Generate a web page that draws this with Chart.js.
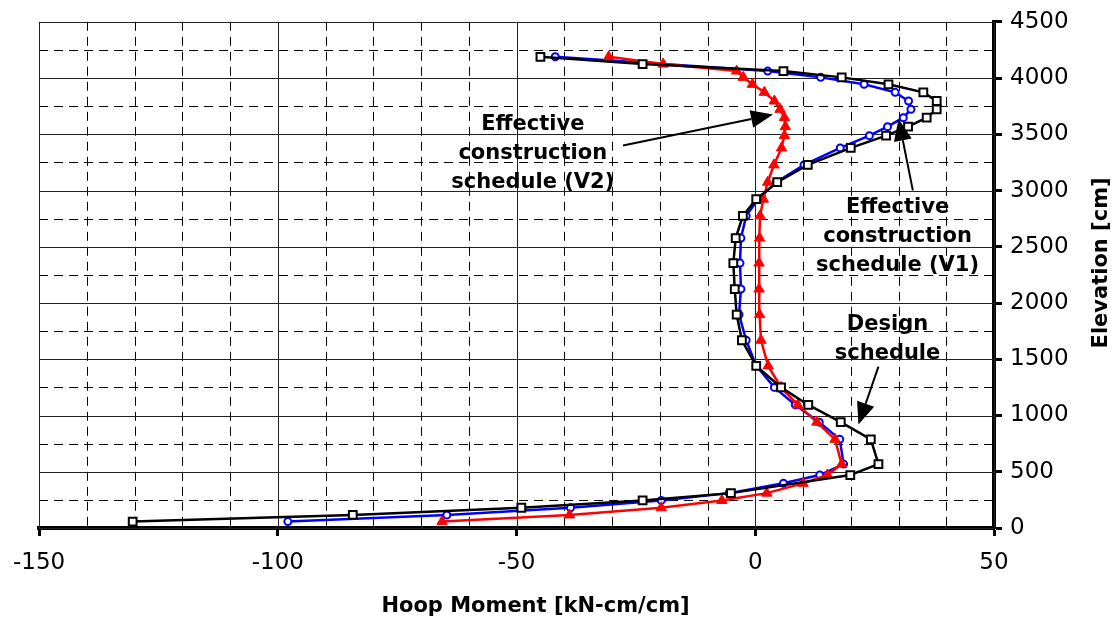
<!DOCTYPE html>
<html>
<head>
<meta charset="utf-8">
<script src="https://cdn.jsdelivr.net/npm/chart.js@4.4.1/dist/chart.umd.min.js"></script>
<style>
  html, body { margin: 0; padding: 0; background: #fff; }
  #wrap { width: 1119px; height: 623px; }
</style>
</head>
<body>
<div id="wrap"><canvas id="chart" width="1119" height="623"></canvas></div>
<script>
// Axis ticks
const xTicks = [-150, -100, -50, 0, 50];
const yTicks = [0, 500, 1000, 1500, 2000, 2500, 3000, 3500, 4000, 4500];

// Design schedule (black squares)
const designElev = [57, 116, 180, 245, 310, 471, 568, 788, 941, 1094, 1250, 1441, 1669, 1897, 2124, 2355, 2577,
  2775, 2923, 3074, 3228, 3379, 3488, 3568, 3648, 3722, 3796, 3873, 3944, 4006, 4062, 4124, 4189];
const designMoment = [-130.4, -84.3, -49.0, -23.6, -5.1, 19.9, 25.8, 24.2, 17.9, 11.1, 5.4, 0.2, -2.8, -3.9, -4.3, -4.6, -4.1,
  -2.6, 0.2, 4.6, 11.0, 20.0, 27.4, 32.0, 35.9, 38.0, 38.0, 35.2, 27.9, 18.1, 5.9, -23.6, -45.0];

// Effective construction schedule V1 (blue circles)
const v1Elev = [57, 116, 180, 245, 310, 397, 471, 568, 788, 941, 1094, 1250, 1441, 1669, 1897, 2124, 2355, 2577,
  2775, 2923, 3074, 3228, 3379, 3488, 3568, 3648, 3722, 3796, 3873, 3944, 4006, 4062, 4189];
const v1Moment = [-97.9, -64.6, -38.7, -19.7, -5.5, 5.9, 13.5, 18.5, 17.7, 13.4, 8.4, 4.0, 0.2, -1.9, -3.4, -3.0, -3.2, -3.0,
  -1.9, 0.6, 4.4, 10.2, 17.8, 23.9, 27.7, 31.0, 32.6, 32.1, 29.3, 22.8, 13.7, 2.6, -41.9];

// Effective construction schedule V2 (red triangles)
const v2Elev = [57, 116, 180, 245, 310, 397, 471, 568, 788, 941, 1094, 1250, 1441, 1669, 1897, 2124, 2355, 2577,
  2775, 2923, 3074, 3228, 3379, 3488, 3568, 3648, 3722, 3796, 3873, 3944, 4006, 4062, 4124, 4189];
const v2Moment = [-65.6, -38.9, -19.7, -7.0, 2.4, 10.0, 15.1, 18.1, 16.7, 12.9, 8.9, 5.4, 2.7, 1.2, 0.9, 0.8, 0.8, 0.9,
  1.0, 1.7, 2.6, 3.9, 5.5, 6.1, 6.3, 6.1, 5.2, 4.0, 1.9, -0.6, -2.5, -3.9, -19.3, -30.7];

// Callout texts
const labelV2 = ['Effective', 'construction', 'schedule (V2)'];
const labelV1 = ['Effective', 'construction', 'schedule (V1)'];
const labelDesign = ['Design', 'schedule'];

const FONT = '"DejaVu Sans", Verdana, sans-serif';

function toPoints(xs, ys) {
  return xs.map((x, i) => ({ x, y: ys[i] }));
}

// Dashed minor grid + solid major grid inside the plot area
const gridPlugin = {
  id: 'gridPlugin',
  beforeDatasetsDraw(chart) {
    const { ctx, chartArea: a, scales: { x, y } } = chart;
    ctx.save();
    ctx.lineWidth = 1;
    ctx.strokeStyle = '#000';
    ctx.setLineDash([9, 6]);
    for (let v = -150; v <= 50; v += 10) {
      if (v % 50 === 0) continue;
      const px = Math.round(x.getPixelForValue(v)) + 0.5;
      ctx.beginPath(); ctx.moveTo(px, a.top); ctx.lineTo(px, a.bottom); ctx.stroke();
    }
    for (let v = 250; v < 4500; v += 500) {
      const py = Math.round(y.getPixelForValue(v)) + 0.5;
      ctx.beginPath(); ctx.moveTo(a.left, py); ctx.lineTo(a.right, py); ctx.stroke();
    }
    ctx.setLineDash([]);
    ctx.strokeStyle = '#222';
    xTicks.forEach((v) => {
      const px = Math.round(x.getPixelForValue(v)) + 0.5;
      ctx.beginPath(); ctx.moveTo(px, a.top); ctx.lineTo(px, a.bottom); ctx.stroke();
    });
    yTicks.forEach((v) => {
      const py = Math.round(y.getPixelForValue(v)) + 0.5;
      ctx.beginPath(); ctx.moveTo(a.left, py); ctx.lineTo(a.right, py); ctx.stroke();
    });
    ctx.restore();
  },
};

function arrow(ctx, x0, y0, x1, y1) {
  const ang = Math.atan2(y1 - y0, x1 - x0);
  const len = 22;
  const half = 9;
  const bx = x1 - Math.cos(ang) * len;
  const by = y1 - Math.sin(ang) * len;
  ctx.beginPath();
  ctx.moveTo(x0, y0);
  ctx.lineTo(bx, by);
  ctx.stroke();
  ctx.beginPath();
  ctx.moveTo(x1, y1);
  ctx.lineTo(bx + Math.sin(ang) * half, by - Math.cos(ang) * half);
  ctx.lineTo(bx - Math.sin(ang) * half, by + Math.cos(ang) * half);
  ctx.closePath();
  ctx.fill();
}

// Callouts and axis titles
const notesPlugin = {
  id: 'notesPlugin',
  afterDraw(chart) {
    const { ctx, chartArea: a, scales: { x, y } } = chart;
    ctx.save();
    ctx.fillStyle = '#000';
    ctx.strokeStyle = '#000';
    ctx.lineWidth = 2;
    ctx.font = 'bold 21px ' + FONT;
    ctx.textAlign = 'center';
    ctx.textBaseline = 'middle';

    const block = (lines, vx, vy) => {
      const cx = x.getPixelForValue(vx);
      const cy = y.getPixelForValue(vy);
      lines.forEach((t, i) => ctx.fillText(t, cx, cy + i * 29));
    };
    block(labelV2, -46.6, 3586);
    block(labelV1, 29.8, 2850);
    block(labelDesign, 27.7, 1805);

    arrow(ctx, x.getPixelForValue(-27.7), y.getPixelForValue(3400), x.getPixelForValue(3.7), y.getPixelForValue(3675));
    arrow(ctx, x.getPixelForValue(33.0), y.getPixelForValue(3001), x.getPixelForValue(30.0), y.getPixelForValue(3639));
    arrow(ctx, x.getPixelForValue(25.8), y.getPixelForValue(1434), x.getPixelForValue(21.6), y.getPixelForValue(920));

    // axis titles
    ctx.fillText('Hoop Moment [kN-cm/cm]', a.left + (a.right - a.left) / 2 + 19, 607);
    ctx.translate(1102, a.top + (a.bottom - a.top) / 2 - 12);
    ctx.rotate(-Math.PI / 2);
    ctx.fillText('Elevation [cm]', 0, 0);
    ctx.restore();
  },
};

new Chart(document.getElementById('chart'), {
  type: 'scatter',
  data: {
    datasets: [
      {
        label: 'Design schedule',
        data: toPoints(designMoment, designElev),
        showLine: true,
        borderColor: '#000',
        borderWidth: 2.5,
        pointStyle: 'rect',
        pointRadius: 5.5,
        pointBorderWidth: 2,
        pointBackgroundColor: '#fff',
        pointBorderColor: '#000',
      },
      {
        label: 'Effective construction schedule (V2)',
        data: toPoints(v2Moment, v2Elev),
        showLine: true,
        borderColor: '#ff0000',
        borderWidth: 2.5,
        pointStyle: 'triangle',
        pointRadius: 6,
        pointBorderWidth: 1,
        pointBackgroundColor: '#ff0000',
        pointBorderColor: '#ff0000',
      },
      {
        label: 'Effective construction schedule (V1)',
        data: toPoints(v1Moment, v1Elev),
        showLine: true,
        borderColor: '#0000ff',
        borderWidth: 2.5,
        pointStyle: 'circle',
        pointRadius: 3.5,
        pointBorderWidth: 2,
        pointBackgroundColor: '#fff',
        pointBorderColor: '#0000ff',
      },
    ],
  },
  options: {
    responsive: false,
    animation: false,
    devicePixelRatio: 1,
    layout: { padding: { left: 37, top: 20, right: 0, bottom: 0 } },
    plugins: {
      legend: { display: false },
      tooltip: { enabled: false },
    },
    scales: {
      x: {
        type: 'linear',
        position: 'bottom',
        min: -150,
        max: 50,
        afterBuildTicks: (scale) => { scale.ticks = xTicks.map((v) => ({ value: v })); },
        afterFit: (scale) => { scale.height = 95; },
        grid: { drawOnChartArea: false, drawTicks: true, tickLength: 8, tickWidth: 3, tickColor: '#000' },
        border: { display: true, color: '#000', width: 4 },
        ticks: {
          color: '#000', padding: 13, maxRotation: 0,
          font: { family: FONT, size: 23 },
          callback: (v) => String(v),
        },
      },
      y: {
        type: 'linear',
        position: 'right',
        min: 0,
        max: 4500,
        afterBuildTicks: (scale) => { scale.ticks = yTicks.map((v) => ({ value: v })); },
        afterFit: (scale) => { scale.width = 125; },
        grid: { drawOnChartArea: false, drawTicks: true, tickLength: 8, tickWidth: 3, tickColor: '#000' },
        border: { display: true, color: '#000', width: 4 },
        ticks: {
          color: '#000', padding: 8,
          font: { family: FONT, size: 23 },
          callback: (v) => String(v),
        },
      },
    },
  },
  plugins: [gridPlugin, notesPlugin],
});
</script>
</body>
</html>
